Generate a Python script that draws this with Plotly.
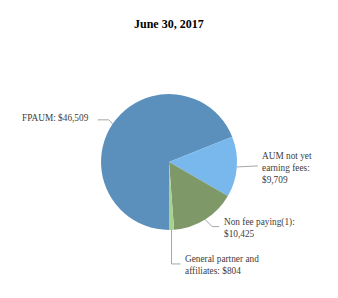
import math
import plotly.graph_objects as go

title = "June 30, 2017"
categories = ["FPAUM", "AUM not yet earning fees", "Non fee paying(1)", "General partner and affiliates"]
values = [46509, 9709, 10425, 804]
label_texts = ["FPAUM: $46,509", "AUM not yet<br>earning fees:<br>$9,709",
               "Non fee paying(1):<br>$10,425", "General partner and<br>affiliates: $804"]
colors = ["#5B8FBC", "#78B8EC", "#7E9867", "#A9D18E"]

W, H = 338, 298
cx, cy, r = 169, 162, 68
rotation = 180

def px(x):
    return x / W

def py(y):
    return 1 - y / H

fig = go.Figure()
fig.add_trace(go.Pie(
    labels=categories, values=values, sort=False, direction="clockwise",
    rotation=rotation, marker=dict(colors=colors, line=dict(width=0)),
    textinfo="none", hoverinfo="label+value", showlegend=False,
    domain=dict(x=[px(cx - r), px(cx + r)], y=[py(cy + r), py(cy - r)]),
))

# mid-angles of slices (clockwise from 12 o'clock)
total = sum(values)
mids = []
acc = rotation
for v in values:
    span = v / total * 360
    mids.append((acc + span / 2) % 360)
    acc += span

def edge(a):
    t = math.radians(a)
    return cx + r * math.sin(t), cy - r * math.cos(t)

# leader line elbows (pixel offsets) and label anchors
elbows = [
    [(-4, -4), (-15, -4)],
    [(21, -1)],
    [(7, 7), (14, 7)],
    [(0, 34), (9, 34)],
]
anchors = [
    dict(x=91, y=118, xanchor="right"),
    dict(x=260, y=168, xanchor="left"),
    dict(x=222, y=228, xanchor="left"),
    dict(x=183, y=265, xanchor="left"),
]

shapes = []
annotations = []
for i, a in enumerate(mids):
    ex, ey = edge(a)
    pts = [(ex, ey)] + [(ex + dx, ey + dy) for dx, dy in elbows[i]]
    path = "M " + " L ".join(f"{px(x):.4f},{py(y):.4f}" for x, y in pts)
    shapes.append(dict(type="path", path=path, xref="paper", yref="paper",
                       line=dict(color="#A6A6A6", width=1)))
    an = anchors[i]
    annotations.append(dict(text=label_texts[i], x=px(an["x"]), y=py(an["y"]),
                            xref="paper", yref="paper", xanchor=an["xanchor"],
                            yanchor="middle", align="left", showarrow=False,
                            font=dict(family="Liberation Serif", size=9.3, color="#404040")))

annotations.append(dict(text="<b>" + title + "</b>", x=0.5, y=py(24), xref="paper", yref="paper",
                        xanchor="center", yanchor="middle", showarrow=False,
                        font=dict(family="Liberation Serif", size=12, color="#000000")))

fig.update_layout(width=W, height=H, margin=dict(l=0, r=0, t=0, b=0),
                  paper_bgcolor="white", plot_bgcolor="white",
                  shapes=shapes, annotations=annotations)
fig.write_html("out.html")
